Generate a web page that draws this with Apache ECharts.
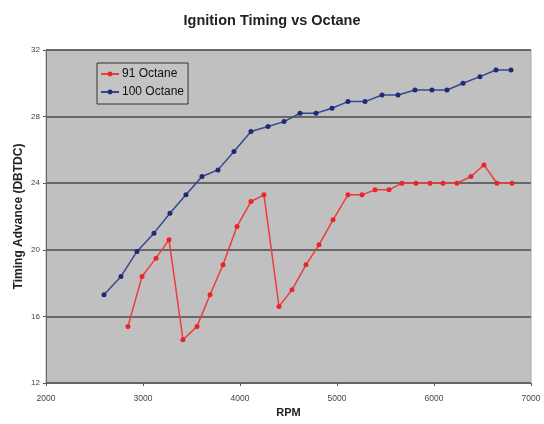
<!DOCTYPE html>
<html>
<head>
<meta charset="utf-8">
<script src="https://cdn.jsdelivr.net/npm/echarts@6/dist/echarts.min.js"></script>
<style>html,body{margin:0;padding:0;background:#fff}#c{width:544px;height:424px}</style>
</head>
<body>
<div id="c"></div>
<script>
const rpm91 = [2845, 2990, 3134, 3268, 3412, 3557, 3691, 3825, 3969, 4113, 4247, 4402, 4536, 4680, 4814, 4959, 5113, 5258, 5392, 5536, 5670, 5814, 5959, 6093, 6237, 6381, 6515, 6649, 6804];
const adv91 = [15.4, 18.4, 19.5, 20.6, 14.6, 15.4, 17.3, 19.1, 21.4, 22.9, 23.3, 16.6, 17.6, 19.1, 20.3, 21.8, 23.3, 23.3, 23.6, 23.6, 24, 24, 24, 24, 24, 24.4, 25.1, 24, 24];
const rpm100 = [2598, 2773, 2938, 3113, 3278, 3443, 3608, 3773, 3938, 4113, 4289, 4454, 4619, 4784, 4948, 5113, 5289, 5464, 5629, 5804, 5979, 6134, 6299, 6474, 6639, 6794];
const adv100 = [17.3, 18.4, 19.9, 21.0, 22.2, 23.3, 24.4, 24.8, 25.9, 27.1, 27.4, 27.7, 28.2, 28.2, 28.5, 28.9, 28.9, 29.3, 29.3, 29.6, 29.6, 29.6, 30.0, 30.4, 30.8, 30.8];
const xTicks = [2000, 3000, 4000, 5000, 6000, 7000];
const yTicks = [12, 16, 20, 24, 28, 32];

const zip = (a, b) => a.map((v, i) => [v, b[i]]);
const chart = echarts.init(document.getElementById('c'), null, {renderer: 'canvas'});
chart.setOption({
  animation: false,
  backgroundColor: '#ffffff',
  title: {
    text: 'Ignition Timing vs Octane',
    left: 'center', top: 8,
    textStyle: {fontFamily: 'Liberation Sans, Arial', fontWeight: 'bold', fontSize: 14.5, color: '#222'}
  },
  legend: {
    orient: 'vertical',
    left: 97, top: 63,
    itemGap: 6,
    itemWidth: 18, itemHeight: 6,
    padding: [5, 4, 6, 3],
    backgroundColor: '#c4c4c4',
    borderColor: '#333',
    borderWidth: 1,
    borderRadius: 0,
    textStyle: {fontFamily: 'Liberation Sans, Arial', fontSize: 12, color: '#111', lineHeight: 12, padding: [0, 0, 0, -2]},
    data: ['91 Octane', '100 Octane']
  },
  grid: {left: 46, right: 13, top: 50, bottom: 41, show: true, backgroundColor: '#c0c0c0', borderColor: '#a8a8a8', borderWidth: 1},
  xAxis: {
    type: 'value', min: xTicks[0], max: xTicks[xTicks.length - 1], interval: 1000,
    name: 'RPM', nameLocation: 'middle', nameGap: 24,
    nameTextStyle: {fontFamily: 'Liberation Sans, Arial', fontWeight: 'bold', fontSize: 11, color: '#222'},
    axisLine: {show: true, lineStyle: {color: '#666', width: 1}},
    axisTick: {show: true, length: 3, inside: false, lineStyle: {color: '#555'}},
    axisLabel: {fontFamily: 'Liberation Sans, Arial', fontSize: 8.5, color: '#444', margin: 11, formatter: v => String(v)},
    splitLine: {show: false}
  },
  yAxis: {
    type: 'value', min: yTicks[0], max: yTicks[yTicks.length - 1], interval: 4,
    name: 'Timing Advance (DBTDC)', nameLocation: 'middle', nameGap: 21, nameRotate: 90,
    nameMoveOverlap: false,
    nameTextStyle: {fontFamily: 'Liberation Sans, Arial', fontWeight: 'bold', fontSize: 12, color: '#222'},
    axisLine: {show: true, lineStyle: {color: '#666', width: 1}},
    axisTick: {show: true, length: 3, lineStyle: {color: '#555'}},
    axisLabel: {fontFamily: 'Liberation Sans, Arial', fontSize: 8, color: '#444', margin: 6},
    splitLine: {show: true, lineStyle: {color: '#4a4a4a', width: 1.5}}
  },
  series: [
    {
      name: '91 Octane', type: 'line', data: zip(rpm91, adv91),
      symbol: 'circle', symbolSize: 5,
      itemStyle: {color: '#e8262a'},
      lineStyle: {color: '#ec3c3c', width: 1.5}
    },
    {
      name: '100 Octane', type: 'line', data: zip(rpm100, adv100),
      symbol: 'circle', symbolSize: 5,
      itemStyle: {color: '#1c2a78'},
      lineStyle: {color: '#35488f', width: 1.5}
    }
  ]
});
</script>
</body>
</html>
